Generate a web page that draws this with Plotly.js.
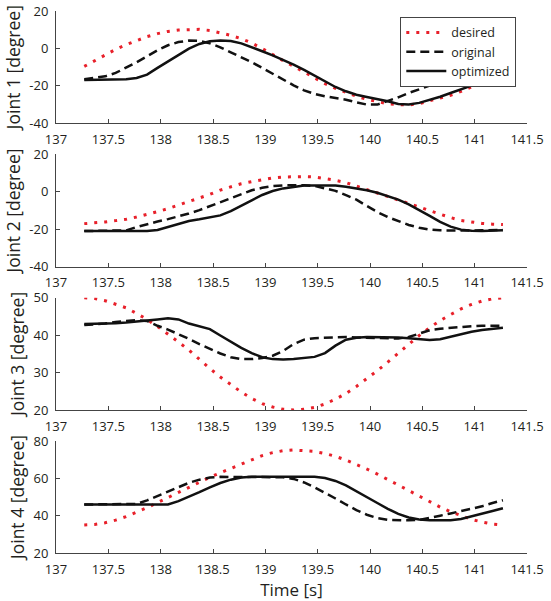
<!DOCTYPE html>
<html>
<head>
<meta charset="utf-8">
<script src="https://cdn.plot.ly/plotly-3.0.1.min.js"></script>
<style>
  html, body { margin: 0; padding: 0; background: #ffffff; }
  #chart { width: 551px; height: 601px; }
</style>
</head>
<body>
<div id="chart"></div>
<script>
// ---- data ----
const time = [137.27,137.37,137.47,137.57,137.67,137.77,137.87,137.97,138.07,138.17,
              138.27,138.37,138.47,138.57,138.67,138.77,138.87,138.97,139.07,139.17,
              139.27,139.37,139.47,139.57,139.67,139.77,139.87,139.97,140.07,140.17,
              140.27,140.37,140.47,140.57,140.67,140.77,140.87,140.97,141.07,141.17,141.27];

const desired1   = [-9.6,-6.5,-3.4,-0.5,2.0,4.3,6.3,7.9,9.1,9.8,10.2,10.2,9.6,8.5,7.0,5.2,2.9,-0.1,-3.4,-6.5,
                    -9.5,-12.7,-15.8,-18.8,-21.3,-23.5,-25.5,-27.2,-28.6,-29.6,-30.1,-30.2,-29.5,-28.2,-26.5,-25,-23,-20.5,-18,-16.5,-15];
const original1  = [-16.5,-15.8,-14.9,-13.1,-10.4,-7.4,-4.2,-1,1.7,3.4,4.2,4.0,2.7,0.6,-2.1,-4.6,-7.4,-10.4,-13.5,-16.7,
                    -19.7,-22.4,-24.3,-25.6,-26.5,-27.4,-28.8,-30,-30,-28.2,-26.1,-23.8,-21.7,-19.9,-18.5,-17.2,-15.8,-14.9,-14,-13.7,-13.5];
const optimized1 = [-16.8,-16.8,-16.8,-16.7,-16.5,-15.8,-14,-10.4,-6.9,-3.3,-0.1,2.4,3.8,4.3,4.0,2.7,0.8,-1.5,-3.7,-6,
                    -8.7,-11.5,-14.5,-17.6,-20.6,-22.9,-24.7,-25.9,-27,-28.2,-29.7,-30,-29.1,-27.5,-25.8,-23.8,-22,-19.9,-17.9,-16.5,-15];

const desired2   = [-17.0,-16.7,-16.1,-15.4,-14.7,-13.5,-12.2,-10.6,-9.0,-7.2,-5.3,-3.3,-1.4,0.9,2.7,4.3,5.4,6.5,7.4,7.9,
                    8.2,8.1,7.9,7.2,6.1,4.9,3.1,1.1,-0.7,-2.4,-4.2,-6.2,-8.1,-10.1,-12,-13.8,-15.3,-16.3,-16.9,-17.3,-17.5];
const original2  = [-21,-21,-21,-20.8,-20.6,-18.8,-17.2,-15.9,-14.6,-13.2,-11.6,-9.8,-7.7,-5.4,-3.1,-1.0,0.8,2.1,3.0,3.4,
                    3.6,3.5,3.1,2.0,0.5,-1.8,-4.2,-7.6,-10.8,-13.5,-15.6,-17.7,-19.2,-20.2,-20.6,-20.7,-20.7,-20.7,-20.6,-20.5,-20.4];
const optimized2 = [-21,-21,-21,-21,-21,-21,-21,-20.4,-18.8,-17,-15.6,-14.7,-13.8,-12.6,-10.3,-7.6,-4.6,-1.7,0.4,1.8,
                    2.7,3.3,3.4,3.4,3.3,2.7,1.8,0.8,-0.5,-2.3,-4.2,-6.7,-9.6,-12.9,-16.1,-18.6,-20.2,-20.8,-20.9,-20.8,-20.6];

const desired3   = [50,49.8,49.2,48.3,47.3,45.8,44.2,42.3,40.3,38.2,36,33.5,31.1,28.8,26.7,24.8,23.1,21.7,20.8,20.2,
                    20,20.2,20.7,21.6,22.9,24.4,26.3,28.3,30.5,32.8,35.2,37.6,39.9,42,43.9,45.5,47,48.2,49.1,49.7,50];
const original3  = [42.7,42.8,43.1,43.5,43.8,44,43.8,42.5,41.5,40.3,39,37.6,36.3,35.1,34.1,33.6,33.6,33.9,34.5,35.8,
                    37.6,38.8,39.2,39.3,39.5,39.5,39.4,39.3,39.3,39.2,39.1,39.5,40.5,41.3,41.7,42,42.2,42.4,42.5,42.5,42.5];
const optimized3 = [43,43,43.1,43.2,43.4,43.6,43.9,44.2,44.5,44.2,43.1,42.4,41.6,39.9,38.2,36.6,35.2,34.1,33.6,33.5,
                    33.6,33.8,34.2,35.2,37.2,38.8,39.3,39.5,39.5,39.5,39.4,39.2,38.9,38.7,38.9,39.6,40.3,40.9,41.4,41.7,42];

const desired4   = [35,35.3,36.2,37.6,39.5,41.8,44.3,47,49.8,52.6,55.3,58,60.6,63,65.3,68,70.2,72.2,73.8,74.8,
                    75.2,75,74.4,73.3,71.8,69.8,67.5,65,62.3,59.4,56.4,53.4,50.4,47.4,44.6,42.1,39.9,38,36.6,35.5,35];
const original4  = [46,46,46,46,46,46.3,48.2,50.6,53.2,55.6,57.6,59.3,60.4,60.8,60.8,60.8,60.8,60.8,60.8,60.6,
                    59.7,57.8,55.2,52.3,49.2,46,43,40.5,38.7,37.8,37.5,37.5,37.7,38.7,40,41.2,42.4,43.6,45,46.8,48.3];
const optimized4 = [46,46,46,46,46,46,46,46,46,47.8,50,52.6,55.2,57.5,59.3,60.5,60.8,60.8,60.8,60.8,
                    60.8,60.8,60.8,60.2,58.6,56.2,53.2,50,46.8,43.7,41,39,37.9,37.6,37.6,37.6,38.2,39.5,41,42.5,44];

const seriesNames = ['desired', 'original', 'optimized'];
const yTitles = ['Joint 1 [degree]', 'Joint 2 [degree]', 'Joint 3 [degree]', 'Joint 4 [degree]'];
const xTitle = 'Time [s]';
const xTickVals = [137, 137.5, 138, 138.5, 139, 139.5, 140, 140.5, 141, 141.5];
const xTickText = ['137', '137.5', '138', '138.5', '139', '139.5', '140', '140.5', '141', '141.5'];
const yTickVals = [[-40, -20, 0, 20], [-40, -20, 0, 20], [20, 30, 40, 50], [20, 40, 60, 80]];
const yTickText = [['-40', '-20', '0', '20'], ['-40', '-20', '0', '20'], ['20', '30', '40', '50'], ['20', '40', '60', '80']];
const yRanges = [[-40, 20], [-40, 20], [20, 50], [20, 80]];

const panels = [
  [desired1, original1, optimized1],
  [desired2, original2, optimized2],
  [desired3, original3, optimized3],
  [desired4, original4, optimized4]
];

// ---- styles ----
const RED = '#e8202a';
const BLACK = '#111111';
const styles = [
  { color: RED, width: 3, dash: '3px,7px' },
  { color: BLACK, width: 2.5, dash: '9px,5px' },
  { color: BLACK, width: 2.5, dash: 'solid' }
];

const FONT = '"Open Sans", "Noto Sans", sans-serif';
const TXT = '#231f20';
const AXC = '#444444';

const domains = [[0.7928, 1.0], [0.5282, 0.7356], [0.2638, 0.4710], [0.0, 0.2066]];

const traces = [];
panels.forEach((series, p) => {
  const sfx = p === 0 ? '' : String(p + 1);
  series.forEach((vals, s) => {
    traces.push({
      type: 'scatter',
      mode: 'lines',
      x: time,
      y: vals,
      name: seriesNames[s],
      showlegend: p === 0,
      xaxis: 'x' + sfx,
      yaxis: 'y' + sfx,
      line: { color: styles[s].color, width: styles[s].width, dash: styles[s].dash },
      hoverinfo: 'skip'
    });
  });
});

const layout = {
  width: 551,
  height: 601,
  margin: { l: 56, r: 24, t: 11, b: 48 },
  paper_bgcolor: '#ffffff',
  plot_bgcolor: '#ffffff',
  font: { family: FONT, color: TXT, size: 13 },
  showlegend: true,
  legend: {
    x: 0.731, y: 0.989, xanchor: 'left', yanchor: 'top',
    bgcolor: '#ffffff', bordercolor: AXC, borderwidth: 1,
    font: { family: FONT, size: 12.5, color: TXT },
    itemwidth: 40, tracegroupgap: 0
  }
};

for (let p = 0; p < 4; p++) {
  const sfx = p === 0 ? '' : String(p + 1);
  layout['xaxis' + sfx] = {
    domain: [0, 1],
    anchor: 'y' + sfx,
    range: [137, 141.5],
    tickmode: 'array', tickvals: xTickVals, ticktext: xTickText,
    ticks: 'inside', ticklen: 4, tickcolor: AXC, tickwidth: 1,
    ticklabelstandoff: 4,
    showline: true, linecolor: AXC, linewidth: 1, mirror: false,
    showgrid: false, zeroline: false,
    tickfont: { family: FONT, size: 13, color: TXT },
    title: p === 3 ? { text: xTitle, font: { family: FONT, size: 17, color: TXT }, standoff: 0 } : { text: '' }
  };
  layout['yaxis' + sfx] = {
    domain: domains[p],
    anchor: 'x' + sfx,
    range: yRanges[p],
    tickmode: 'array', tickvals: yTickVals[p], ticktext: yTickText[p],
    ticks: 'inside', ticklen: 4, tickcolor: AXC, tickwidth: 1,
    ticklabelstandoff: 4,
    showline: true, linecolor: AXC, linewidth: 1, mirror: false,
    showgrid: false, zeroline: false,
    tickfont: { family: FONT, size: 13, color: TXT },
    title: { text: yTitles[p], font: { family: FONT, size: 17.5, color: TXT }, standoff: 4 }
  };
}

Plotly.newPlot('chart', traces, layout, { displayModeBar: false, staticPlot: true });
</script>
</body>
</html>
